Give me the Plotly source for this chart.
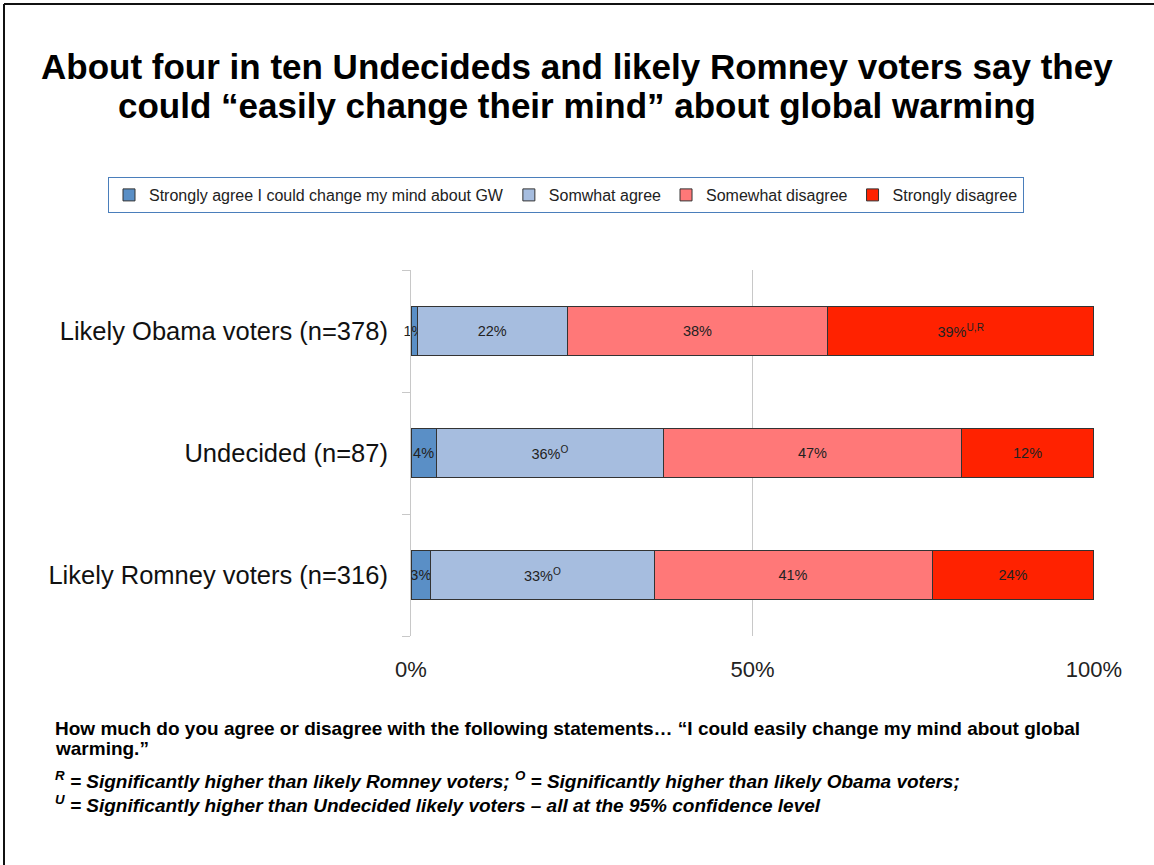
import plotly.graph_objects as go

categories = ["Likely Obama voters (n=378)", "Undecided (n=87)", "Likely Romney voters (n=316)"]
series_names = ["Strongly agree I could change my mind about GW", "Somwhat agree",
                "Somewhat disagree", "Strongly disagree"]
# bar lengths as drawn in the picture (percent)
strongly_agree = [0.9, 3.7, 2.9]
somewhat_agree = [22.0, 33.3, 32.7]
somewhat_disagree = [38.1, 43.6, 40.7]
strongly_disagree = [39.0, 19.4, 23.7]
# printed labels
labels_sa = ["1%", "4%", "3%"]
labels_swa = ["22%", "36%<sup>O</sup>", "33%<sup>O</sup>"]
labels_swd = ["38%", "47%", "41%"]
labels_sd = ["39%<sup>U,R</sup>", "12%", "24%"]
x_tick_vals = [0, 50, 100]
x_tick_text = ["0%", "50%", "100%"]

colors = ["#5a8fc6", "#a6bddf", "#ff7878", "#ff2200"]
values = [strongly_agree, somewhat_agree, somewhat_disagree, strongly_disagree]
texts = [labels_sa, labels_swa, labels_swd, labels_sd]

FONT = "Liberation Sans, Arial, sans-serif"
W, H = 1154, 865
L, R, T, B = 411, 60, 270, 229
PW, PH = W - L - R, H - T - B


def px(x):
    return (x - L) / PW


def py(y):
    return (H - B - y) / PH


fig = go.Figure()
for name, vals, txt, col in zip(series_names, values, texts, colors):
    fig.add_trace(go.Bar(
        y=categories, x=vals, name=name, orientation="h",
        marker=dict(color=col, line=dict(color="#333333", width=1)),
        text=txt, textposition="inside", insidetextanchor="middle", textangle=0,
        textfont=dict(size=14.5, color="#222222", family=FONT),
        cliponaxis=False, hoverinfo="skip",
    ))

fig.update_layout(
    barmode="stack",
    bargap=0.6,
    width=W, height=H,
    margin=dict(l=L, r=R, t=T, b=B),
    paper_bgcolor="white", plot_bgcolor="white",
    font=dict(family=FONT, color="#111111"),
    uniformtext=dict(minsize=14.5, mode="show"),
    legend=dict(
        orientation="h", x=px(108), xanchor="left", y=py(177), yanchor="top",
        bordercolor="#4a7ebb", borderwidth=1, bgcolor="white",
        font=dict(size=16, color="#222222", family=FONT),
        traceorder="normal", itemwidth=30,
    ),
    xaxis=dict(
        range=[0, 100.02], tickvals=x_tick_vals, ticktext=x_tick_text,
        showgrid=True, gridcolor="#c8c8c8", gridwidth=1,
        zeroline=False, showline=False,
        tickfont=dict(size=22, color="#222222", family=FONT),
        ticks="", ticklabelstandoff=18, fixedrange=True,
    ),
    yaxis=dict(
        categoryorder="array", categoryarray=categories[::-1],
        showline=True, linecolor="#c8c8c8", linewidth=1,
        ticks="outside", tickson="boundaries", ticklen=8, tickcolor="#c8c8c8",
        tickfont=dict(size=25.5, color="#111111", family=FONT),
        ticklabelstandoff=17, showgrid=False, fixedrange=True,
    ),
)

# slide frame
fig.add_shape(type="line", xref="paper", yref="paper", x0=px(4), x1=px(4), y0=py(H + 2), y1=py(4),
              line=dict(color="#111111", width=2))
fig.add_shape(type="line", xref="paper", yref="paper", x0=px(4), x1=px(W + 2), y0=py(4), y1=py(4),
              line=dict(color="#111111", width=2))

title_lines = ["About four in ten Undecideds and likely Romney voters say they",
               "could \u201ceasily change their mind\u201d about global warming"]
for line, yy in zip(title_lines, [66, 105]):
    fig.add_annotation(xref="paper", yref="paper", x=px(577), y=py(yy),
                       xanchor="center", yanchor="middle", showarrow=False,
                       text="<b>" + line + "</b>",
                       font=dict(size=35, color="#000000", family=FONT))

question_lines = ["How much do you agree or disagree with the following statements\u2026 \u201cI could easily change my mind about global",
                  "warming.\u201d"]
for line, yy in zip(question_lines, [728, 748]):
    fig.add_annotation(xref="paper", yref="paper", x=px(53), y=py(yy),
                       xanchor="left", yanchor="middle", showarrow=False,
                       text="<b>" + line + "</b>",
                       font=dict(size=19, color="#000000", family=FONT))

note_lines = ["<sup>R</sup> = Significantly higher than likely Romney voters; <sup>O</sup> = Significantly higher than likely Obama voters;",
              "<sup>U</sup> = Significantly higher than Undecided likely voters \u2013 all at the 95% confidence level"]
for line, yy in zip(note_lines, [780, 804]):
    fig.add_annotation(xref="paper", yref="paper", x=px(53), y=py(yy),
                       xanchor="left", yanchor="middle", showarrow=False,
                       text="<b><i>" + line + "</i></b>",
                       font=dict(size=19, color="#000000", family=FONT))

fig.write_html("out.html", config={"displayModeBar": False},
               post_script="document.body.style.margin='0';document.body.style.overflow='hidden';")
